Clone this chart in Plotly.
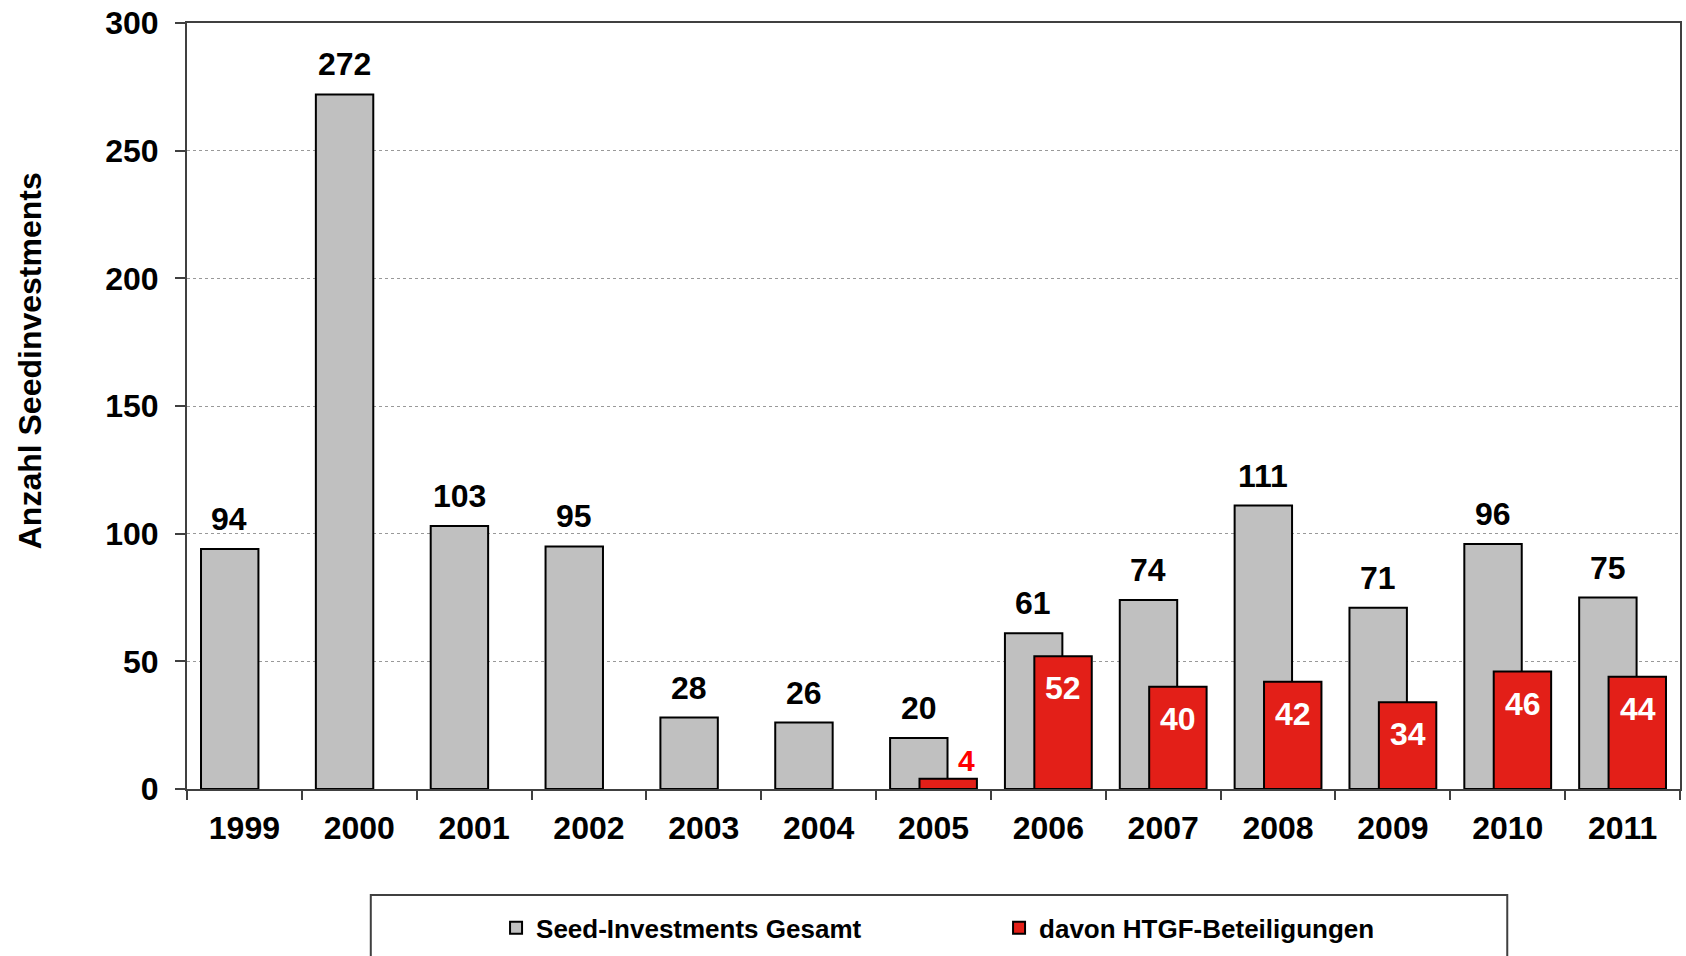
import plotly.graph_objects as go

years = ["1999", "2000", "2001", "2002", "2003", "2004", "2005",
         "2006", "2007", "2008", "2009", "2010", "2011"]
seed_total = [94, 272, 103, 95, 28, 26, 20, 61, 74, 111, 71, 96, 75]
htgf = [None, None, None, None, None, None, 4, 52, 40, 42, 34, 46, 44]

name_total = "Seed-Investments Gesamt"
name_htgf = "davon HTGF-Beteiligungen"
y_title = "Anzahl Seedinvestments"

FONT = "Liberation Sans, Arial, sans-serif"
GRAY = "#C0C0C0"
RED = "#E31F18"
AXIS = "#404040"

fig = go.Figure()
fig.add_trace(go.Bar(
    x=years, y=seed_total, name=name_total,
    marker=dict(color=GRAY, line=dict(color="black", width=2)),
    offset=-0.378, width=0.5, hoverinfo="x+y",
))
fig.add_trace(go.Bar(
    x=years, y=htgf, name=name_htgf,
    marker=dict(color=RED, line=dict(color="black", width=2)),
    offset=-0.122, width=0.5, hoverinfo="x+y",
))

annotations = []
for i, v in enumerate(seed_total):
    annotations.append(dict(
        x=i, y=v, xref="x", yref="y", text=str(v), showarrow=False,
        xshift=-15, yshift=30, yanchor="middle",
        font=dict(family=FONT, size=32, color="black", weight="bold"),
    ))
for i, v in enumerate(htgf):
    if v is None:
        continue
    if v < 10:
        annotations.append(dict(
            x=i, y=v, xref="x", yref="y", text=str(v), showarrow=False,
            xshift=33, yshift=18, yanchor="middle",
            font=dict(family=FONT, size=30, color="#FF0000", weight="bold"),
        ))
    else:
        annotations.append(dict(
            x=i, y=v, xref="x", yref="y", text=str(v), showarrow=False,
            xshift=15, yshift=-32, yanchor="middle",
            font=dict(family=FONT, size=32, color="white", weight="bold"),
        ))

# y-axis title
annotations.append(dict(
    x=-0.105, y=0.5587, xref="paper", yref="paper", text=y_title,
    showarrow=False, textangle=-90, xanchor="center", yanchor="middle",
    font=dict(family=FONT, size=32, color="black", weight="bold"),
))

fig.update_layout(
    width=1686, height=956,
    margin=dict(l=187, r=4, t=23, b=167),
    barmode="overlay",
    plot_bgcolor="white", paper_bgcolor="white",
    font=dict(family=FONT, color="black"),
    showlegend=True,
    legend=dict(
        orientation="h", x=0.207, xanchor="left", y=-0.1814, yanchor="middle",
        font=dict(family=FONT, size=26, color="black", weight="bold"),
        entrywidth=458, entrywidthmode="pixels",
        bgcolor="rgba(0,0,0,0)", borderwidth=0,
        itemclick=False, itemdoubleclick=False,
    ),
    annotations=annotations,
    shapes=[dict(
        type="rect", xref="paper", yref="paper",
        x0=0.1231, x1=0.8843, y0=-0.1383, y1=-0.26,
        line=dict(color=AXIS, width=2), fillcolor="rgba(0,0,0,0)", layer="below",
    )],
)

fig.update_xaxes(
    type="category", tickson="boundaries", range=[-0.5, len(years) - 0.5],
    showline=True, linecolor=AXIS, linewidth=2, mirror=True,
    ticks="outside", ticklen=9, tickwidth=2, tickcolor=AXIS,
    tickfont=dict(family=FONT, size=32, color="black", weight="bold"),
    ticklabelstandoff=10,
    tickangle=0, showgrid=False,
)
fig.update_yaxes(
    range=[0, 300], dtick=50,
    showline=True, linecolor=AXIS, linewidth=2, mirror=True,
    ticks="outside", ticklen=10, tickwidth=2, tickcolor=AXIS,
    tickfont=dict(family=FONT, size=32, color="black", weight="bold"),
    ticklabelstandoff=10,
    showgrid=True, gridcolor="#999999", gridwidth=1, griddash="dot",
    zeroline=False,
)

fig.write_html("out.html")
